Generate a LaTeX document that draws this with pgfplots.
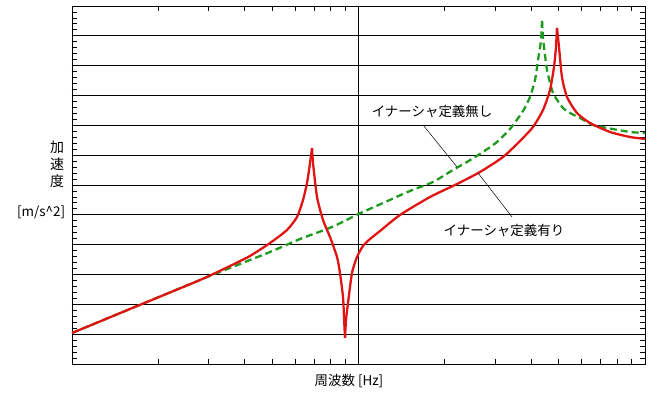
\documentclass[border=0pt]{standalone}
\usepackage{fontspec}
\setmainfont{Noto Sans CJK JP}
\usepackage{pgfplots}
\pgfplotsset{compat=1.18}
\definecolor{cred}{RGB}{225,20,20}
\definecolor{cgreen}{RGB}{30,155,30}
\begin{document}
\begin{tikzpicture}
\begin{axis}[
  scale only axis, width=573bp, height=358bp,
  xmode=log, xmin=1, xmax=100, ymin=0, ymax=12,
  xtick={1,10,100}, minor xtick={2,3,4,5,6,7,8,9,20,30,40,50,60,70,80,90},
  ytick={0,1,...,12}, minor y tick num=4,
  xticklabels={}, yticklabels={},
  xmajorgrids, ymajorgrids,
  grid style={black, line width=0.9bp},
  axis line style={black, line width=0.9bp},
  tick align=inside, major tick length=5bp, minor tick length=5bp,
  tick style={black, line width=0.8bp},
  clip=false,
  font=\fontsize{13.5}{16}\selectfont,
]
\addplot[cgreen, line width=2.3bp, dash pattern=on 7bp off 4bp, smooth, tension=0.4] coordinates {
(1,1.039) (2.798,2.816) (4.912,3.755) (6.250,4.190) (8.083,4.593) (10,5.028)
(12.18,5.397) (15.13,5.800) (18.20,6.101) (21.37,6.504) (23.91,6.772) (27.20,7.107)
(30.44,7.442) (33.80,7.878) (37.52,8.481) (39.69,8.951) (41.32,9.521) (42.33,10.191)
(43.36,10.862) (43.71,11.498)};
\addplot[cgreen, line width=2.3bp, dash pattern=on 7bp off 4bp, smooth, tension=0.4] coordinates {
(43.71,11.498) (44.06,10.929) (44.77,10.359) (45.50,9.856) (47.74,9.085)
(51.72,8.582) (54.72,8.414) (59.31,8.247) (65.84,8.012) (73.72,7.912) (88.66,7.777) (100,7.744)
};
\addplot[cred, line width=2.3bp, smooth, tension=0.4] coordinates {
(1,1.039) (1.594,1.844) (2.798,2.816) (3.561,3.285) (4.181,3.621) (4.912,4.056)
(5.628,4.492) (6.101,4.928) (6.403,5.498) (6.612,6.068) (6.774,6.738) (6.884,7.241)};
\addplot[cred, line width=2.3bp, smooth, tension=0.4] coordinates {
(6.884,7.241) (6.939,6.738) (7.166,5.598) (7.520,4.827) (7.954,4.257) (8.414,3.587) (8.618,3.051)
(8.829,2.246) (8.901,1.576) (8.973,0.872)};
\addplot[cred, line width=2.3bp, smooth, tension=0.4] coordinates {
(8.973,0.872) (9.045,1.475) (9.191,2.045) (9.491,3.051)
(9.881,3.587) (10.37,3.956) (10.97,4.190) (11.89,4.459) (13.96,4.995) (17.77,5.598)
(22.07,6.034) (26.56,6.437) (31.95,6.939) (36.62,7.476) (40.66,7.945) (44.06,8.515)
(46.60,9.185) (48.12,9.956) (48.90,10.627) (49.29,11.264)};
\addplot[cred, line width=2.3bp, smooth, tension=0.4] coordinates {
(49.29,11.264) (50.09,10.627) (51.31,9.621)
(53.42,8.951) (57.90,8.414) (64.27,8.079) (75.49,7.777) (88.66,7.610) (100,7.543)
};
\node at (axis cs:18.06,8.48) {イナーシャ定義無し};
\draw[black, line width=0.5bp] (axis cs:16.80,8.012) -- (axis cs:22.07,6.604);
\node at (axis cs:32.2,4.49) {イナーシャ定義有り};
\draw[black, line width=0.5bp] (axis cs:26.13,6.403) -- (axis cs:34.35,4.928);
\node[align=center, font=\fontsize{14}{17}\selectfont] at (rel axis cs:-0.026,0.559) {加\\速\\度};
\node at (rel axis cs:-0.054,0.4246) {[m/s\textasciicircum 2]};
\node at (rel axis cs:0.4834,-0.0475) {周波数 [Hz]};
\end{axis}
\pgfresetboundingbox
\path ([xshift=-72bp,yshift=-31bp]current axis.south west) rectangle ([xshift=27bp,yshift=6bp]current axis.north east);
\end{tikzpicture}
\end{document}
